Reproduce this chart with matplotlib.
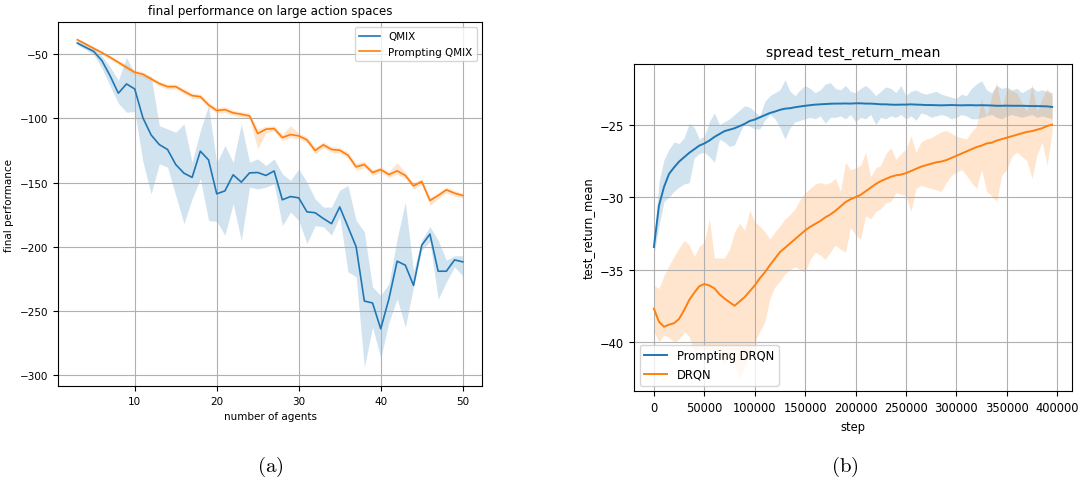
import numpy as np
import matplotlib
matplotlib.use('Agg')
import matplotlib.pyplot as plt

plt.rcParams['mathtext.fontset'] = 'cm'

# (a) final performance vs number of agents
agents = list(range(3, 51))
qmix_mean = [-41.5, -44.8, -48.0, -55.2, -67.0, -80.5, -73.3, -77.2, -99.7, -113.0,
             -120.5, -124.3, -136.0, -142.7, -146.0, -125.6, -132.4, -158.8, -156.5, -144.0,
             -149.7, -142.5, -142.2, -144.5, -141.0, -163.4, -160.9, -161.9, -172.8, -173.5,
             -178.0, -182.0, -169.0, -184.4, -200.0, -242.2, -243.7, -263.8, -240.4, -211.2,
             -214.3, -230.0, -198.7, -190.1, -219.0, -219.0, -210.2, -211.7]
qmix_upper = [-39.5, -42.5, -45.5, -51.5, -60.0, -70.5, -52.6, -65.5, -66.3, -67.4,
              -105.7, -108.3, -110.9, -104.4, -134.2, -109.6, -90.0, -135.0, -121.2, -134.2,
              -104.4, -134.2, -131.6, -136.8, -131.6, -143.2, -148.4, -139.4, -149.7, -162.7,
              -169.1, -169.1, -156.0, -152.3, -179.5, -188.3, -231.2, -237.8, -228.6, -193.5,
              -165.3, -219.0, -194.8, -184.4, -194.8, -210.4, -207.0, -207.0]
qmix_lower = [-43.0, -46.5, -50.5, -61.0, -75.0, -88.3, -95.3, -94.8, -134.0, -158.8,
              -135.5, -138.0, -160.0, -182.0, -162.7, -147.0, -179.5, -180.3, -191.0, -166.5,
              -195.0, -153.6, -155.0, -153.6, -151.0, -183.4, -173.0, -179.5, -197.4, -183.6,
              -184.4, -190.9, -176.6, -219.5, -223.4, -293.7, -262.5, -286.7, -258.6, -240.4,
              -262.5, -231.0, -202.6, -196.0, -240.9, -227.3, -215.6, -222.7]
pq_mean = [-38.9, -42.2, -45.6, -49.0, -52.6, -56.5, -60.4, -64.2, -65.8, -69.4,
           -73.0, -75.4, -75.4, -79.0, -82.4, -83.2, -89.6, -94.0, -93.3, -95.8,
           -96.9, -98.2, -111.9, -108.5, -108.0, -115.0, -112.7, -113.7, -116.8, -125.1,
           -120.7, -124.3, -124.9, -128.7, -137.8, -136.0, -142.2, -139.9, -143.8, -140.9,
           -144.5, -152.6, -149.2, -164.0, -160.1, -155.7, -158.3, -160.1]
pq_upper = [-37.8, -41.0, -44.3, -47.6, -51.0, -54.8, -58.6, -62.4, -64.0, -67.6,
            -71.2, -73.4, -73.6, -77.0, -80.5, -81.2, -87.4, -91.8, -91.0, -93.8,
            -95.0, -96.0, -108.5, -106.2, -106.0, -112.5, -105.8, -111.5, -114.6, -122.5,
            -118.4, -122.2, -122.8, -126.4, -135.0, -133.5, -140.0, -137.8, -141.6, -134.5,
            -142.0, -150.2, -146.8, -161.5, -157.8, -153.5, -156.2, -158.2]
pq_lower = [-40.0, -43.4, -46.9, -50.4, -54.2, -58.2, -62.2, -66.0, -67.6, -71.2,
            -74.8, -77.4, -77.2, -81.0, -84.4, -85.2, -91.8, -96.0, -95.6, -97.8,
            -98.8, -100.2, -124.0, -111.0, -110.2, -117.6, -115.0, -116.0, -119.0, -127.6,
            -123.0, -126.6, -127.2, -131.0, -140.6, -138.6, -144.6, -142.2, -146.2, -143.6,
            -147.0, -155.0, -151.6, -167.8, -162.6, -158.0, -160.6, -162.0]

# (b) spread test_return_mean vs step
steps = np.arange(0, 400000, 5000)
pdrqn_mean = [-33.44, -30.6, -29.3, -28.4, -27.95, -27.55, -27.25, -26.95, -26.7, -26.45,
              -26.3, -26.1, -25.85, -25.65, -25.45, -25.35, -25.25, -25.1, -24.95, -24.75,
              -24.65, -24.5, -24.35, -24.2, -24.1, -23.98, -23.9, -23.87, -23.8, -23.75,
              -23.7, -23.66, -23.62, -23.6, -23.58, -23.56, -23.55, -23.55, -23.54, -23.55,
              -23.53, -23.53, -23.55, -23.55, -23.57, -23.6, -23.6, -23.62, -23.63, -23.62,
              -23.62, -23.6, -23.62, -23.63, -23.65, -23.65, -23.66, -23.67, -23.66, -23.65,
              -23.66, -23.67, -23.66, -23.66, -23.67, -23.66, -23.67, -23.68, -23.7, -23.7,
              -23.69, -23.7, -23.7, -23.7, -23.71, -23.72, -23.72, -23.73, -23.74, -23.78]
pdrqn_upper = [-33.0, -29.0, -27.4, -26.7, -26.2, -26.3, -25.9, -24.9, -25.2, -26.0,
               -25.8, -24.8, -24.2, -25.0, -24.8, -24.6, -24.3, -24.0, -23.7, -23.8,
               -24.1, -24.4, -23.4, -23.0, -22.8, -22.6, -21.9, -22.7, -23.0, -22.6,
               -22.3, -22.5, -22.8, -22.6, -22.2, -22.1, -22.5, -22.6, -22.3, -22.7,
               -22.8, -22.5, -22.3, -22.6, -23.0, -22.7, -22.4, -22.5, -22.8, -22.3,
               -23.0, -22.7, -22.6, -22.8, -22.9, -22.8, -22.7, -22.9, -23.0, -23.1,
               -23.2, -22.9, -23.0, -22.5, -22.2, -21.97, -22.6, -22.8, -22.3, -22.5,
               -22.4, -22.6, -22.5, -22.8, -22.6, -22.4, -22.7, -22.6, -22.7, -22.8]
pdrqn_lower = [-34.0, -32.0, -30.3, -30.0, -29.6, -29.3, -29.1, -29.0, -27.3, -27.0,
               -26.9, -27.2, -27.6, -26.0, -26.2, -26.5, -26.4, -25.6, -24.9, -25.1,
               -25.3, -25.3, -24.7, -24.3, -24.6, -25.2, -26.0, -25.2, -24.8, -24.7,
               -24.6, -24.5, -24.6, -24.4, -24.9, -24.5, -24.5, -24.4, -24.6, -24.3,
               -24.8, -24.5, -24.6, -24.3, -25.0, -24.5, -24.6, -24.4, -24.5, -24.3,
               -24.6, -24.4, -24.7, -24.2, -24.3, -24.5, -24.4, -24.3, -24.4, -24.6,
               -24.5, -24.3, -24.4, -24.6, -24.6, -24.5, -24.4, -24.3, -24.5, -24.6,
               -24.4, -24.3, -24.4, -24.5, -24.4, -24.3, -24.5, -24.4, -24.5, -24.6]
drqn_mean = [-37.7, -38.6, -38.95, -38.8, -38.7, -38.4, -37.8, -37.1, -36.6, -36.15,
             -36.0, -36.1, -36.3, -36.7, -37.0, -37.25, -37.5, -37.2, -36.9, -36.5,
             -36.1, -35.6, -35.2, -34.7, -34.25, -33.8, -33.5, -33.2, -32.9, -32.6,
             -32.3, -32.05, -31.85, -31.65, -31.4, -31.2, -30.95, -30.65, -30.35, -30.15,
             -30.0, -29.85, -29.6, -29.35, -29.1, -28.9, -28.75, -28.6, -28.5, -28.45,
             -28.35, -28.2, -28.05, -27.9, -27.8, -27.7, -27.6, -27.55, -27.45, -27.3,
             -27.15, -27.0, -26.85, -26.7, -26.55, -26.45, -26.3, -26.25, -26.1, -26.0,
             -25.9, -25.8, -25.7, -25.6, -25.5, -25.45, -25.35, -25.25, -25.1, -25.0]
drqn_upper = [-36.1, -36.3, -35.4, -34.7, -34.1, -33.5, -33.0, -33.3, -34.1, -33.4,
              -33.1, -31.5, -34.2, -34.2, -34.2, -33.6, -32.4, -31.8, -32.3, -30.9,
              -31.7, -32.0, -32.4, -32.9, -32.4, -32.0, -31.5, -31.2, -30.8, -30.2,
              -29.7, -29.4, -29.1, -29.0, -29.1, -29.0, -28.7, -29.6, -27.6, -28.1,
              -28.0, -27.8, -26.9, -28.6, -28.0, -27.8, -27.0, -26.6, -27.4, -27.0,
              -26.7, -25.8, -26.9, -26.2, -26.0, -25.9, -25.7, -25.5, -25.4, -25.6,
              -25.8, -25.9, -26.0, -25.5, -25.1, -23.2, -24.5, -23.0, -22.1, -23.9,
              -22.5, -22.7, -22.8, -23.5, -24.1, -22.2, -24.1, -23.2, -22.5, -23.0]
drqn_lower = [-39.3, -40.0, -39.5, -39.7, -40.0, -39.8, -39.3, -39.6, -40.8, -40.5,
              -40.4, -41.1, -40.4, -41.0, -41.6, -40.8, -41.6, -42.5, -41.8, -40.8,
              -40.0, -39.3, -38.6, -37.0, -36.2, -35.8, -35.3, -35.0, -34.8, -35.0,
              -35.2, -34.3, -33.8, -34.0, -34.3, -33.8, -33.3, -33.6, -33.8, -32.1,
              -32.6, -32.9, -31.3, -31.5, -31.0, -30.8, -30.4, -30.3, -29.7, -29.8,
              -29.9, -31.0, -29.4, -29.2, -29.3, -29.4, -29.5, -29.6, -29.0, -28.5,
              -28.3, -28.1, -28.5, -29.0, -29.4, -28.1, -29.6, -29.9, -30.3, -28.5,
              -28.1, -27.2, -26.9, -27.2, -27.5, -28.7, -27.1, -26.2, -27.8, -25.5]

blue = '#1f77b4'
orange = '#ff7f0e'

fig = plt.figure(figsize=(10.81, 4.81), dpi=100)

# left panel
ax1 = fig.add_axes([0.0537, 0.1954, 0.3922, 0.7568])
ax1.fill_between(agents, qmix_lower, qmix_upper, color=blue, alpha=0.2, linewidth=0)
ax1.plot(agents, qmix_mean, color=blue, lw=1.2, label='QMIX')
ax1.fill_between(agents, pq_lower, pq_upper, color=orange, alpha=0.2, linewidth=0)
ax1.plot(agents, pq_mean, color=orange, lw=1.2, label='Prompting QMIX')
ax1.set_ylim(-308.3, -25.1)
ax1.set_xticks([10, 20, 30, 40, 50])
ax1.set_yticks([-50, -100, -150, -200, -250, -300])
ax1.grid(True)
ax1.tick_params(labelsize=7.5)
ax1.set_title('final performance on large action spaces', fontsize=8.6)
ax1.set_xlabel('number of agents', fontsize=7.5)
ax1.set_ylabel('final performance', fontsize=7.5)
ax1.legend(loc='upper right', fontsize=7.5)

# right panel
ax2 = fig.add_axes([0.5865, 0.1844, 0.4052, 0.681])
ax2.fill_between(steps, pdrqn_lower, pdrqn_upper, color=blue, alpha=0.2, linewidth=0)
ax2.plot(steps, pdrqn_mean, color=blue, lw=1.4, label='Prompting DRQN')
ax2.fill_between(steps, drqn_lower, drqn_upper, color=orange, alpha=0.2, linewidth=0)
ax2.plot(steps, drqn_mean, color=orange, lw=1.4, label='DRQN')
ax2.set_ylim(-43.4, -20.8)
ax2.set_xticks(np.arange(0, 400001, 50000))
ax2.set_yticks([-25, -30, -35, -40])
ax2.grid(True)
ax2.tick_params(labelsize=8.3)
ax2.set_title('spread test_return_mean', fontsize=10)
ax2.set_xlabel('step', fontsize=8.3)
ax2.set_ylabel('test_return_mean', fontsize=8.3)
ax2.legend(loc='lower left', fontsize=8.3)

fig.text(0.2498, 0.029, r'$\mathrm{(a)}$', fontsize=15, ha='center', va='center')
fig.text(0.7817, 0.029, r'$\mathrm{(b)}$', fontsize=15, ha='center', va='center')

fig.savefig('out.png', dpi=100)
